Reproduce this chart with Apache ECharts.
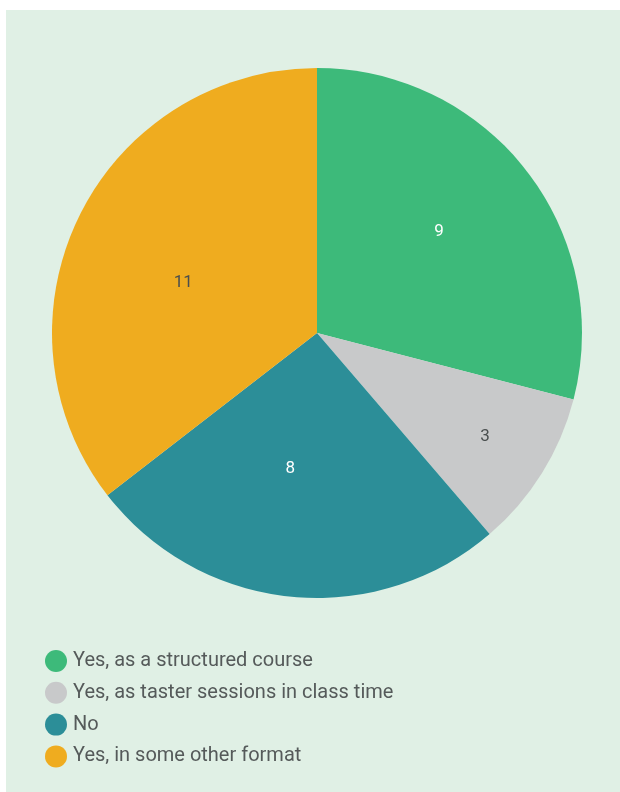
<!DOCTYPE html>
<html>
<head>
<meta charset="utf-8">
<script src="https://cdn.jsdelivr.net/npm/echarts@6/dist/echarts.min.js"></script>
<style>
html,body{margin:0;padding:0;background:#ffffff;}
#chart{width:620px;height:792px;}
</style>
</head>
<body>
<div id="chart"></div>
<script>
const categories = ["Yes, as a structured course", "Yes, as taster sessions in class time", "No", "Yes, in some other format"];
const values = [9, 3, 8, 11];
const colors = ["#3dba7a", "#c8c9ca", "#2c8e98", "#efac1f"];
const labelColors = ["#ffffff", "#4a4f4f", "#ffffff", "#4a4f4f"];
const labelOffsets = [[15, -18], [53, 32], [-13, 1], [-12, 9]];

const chart = echarts.init(document.getElementById('chart'), null, {renderer: 'canvas'});
chart.setOption({
  animation: false,
  graphic: [{
    type: 'rect', z: -10, silent: true,
    shape: {x: 6, y: 10, width: 614, height: 782},
    style: {fill: '#e0f0e5'}
  }],
  legend: {
    orient: 'vertical',
    left: 45,
    top: 650,
    padding: 0,
    icon: 'circle',
    itemWidth: 22,
    itemHeight: 22,
    itemGap: 9.8,
    selectedMode: false,
    textStyle: {fontFamily: 'Roboto', fontSize: 20, color: '#555a5a', padding: [0, 0, 0, 1]},
    data: categories
  },
  series: [{
    type: 'pie',
    center: [317, 333],
    radius: [0, 265],
    startAngle: 90,
    clockwise: true,
    avoidLabelOverlap: false,
    itemStyle: {borderWidth: 0},
    label: {position: 'inside', fontFamily: 'Roboto', fontSize: 17, formatter: '{c}'},
    labelLine: {show: false},
    emphasis: {disabled: true},
    data: categories.map((c, i) => ({
      name: c, value: values[i],
      itemStyle: {color: colors[i]},
      label: {color: labelColors[i], offset: labelOffsets[i]}
    }))
  }]
});
</script>
</body>
</html>
